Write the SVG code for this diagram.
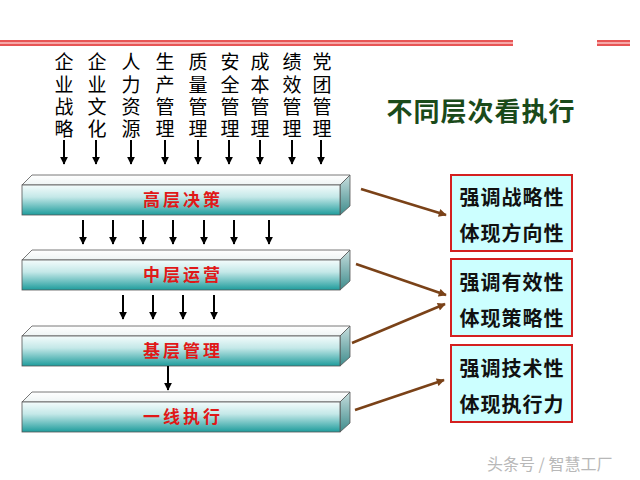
<svg xmlns="http://www.w3.org/2000/svg" width="640" height="480" viewBox="0 0 640 480">
<defs>
<linearGradient id="gFront" x1="0" y1="0" x2="0" y2="1">
<stop offset="0" stop-color="#f4fcfc"/>
<stop offset="0.4" stop-color="#c4e8e8"/>
<stop offset="1" stop-color="#1e9c9c"/>
</linearGradient>
<linearGradient id="gTop" x1="0" y1="0" x2="0" y2="1">
<stop offset="0" stop-color="#ffffff"/>
<stop offset="1" stop-color="#eef4f4"/>
</linearGradient>
<linearGradient id="gSide" x1="0" y1="0" x2="0" y2="1">
<stop offset="0" stop-color="#c8dede"/>
<stop offset="1" stop-color="#3e8c8c"/>
</linearGradient>
<marker id="ah" viewBox="0 0 10 10" refX="9" refY="5" markerWidth="8" markerHeight="8" markerUnits="userSpaceOnUse" orient="auto">
<path d="M0,0 L10,5 L0,10 z" fill="#000"/>
</marker>
<marker id="bh" viewBox="0 0 10 10" refX="9" refY="5" markerWidth="9" markerHeight="8" markerUnits="userSpaceOnUse" orient="auto">
<path d="M0,0 L10,5 L0,10 z" fill="#7a4218"/>
</marker>
<g id="barShape">
<polygon points="22,10 32,0 350,0 340,10" fill="url(#gTop)" stroke="#555" stroke-width="0.8"/>
<polygon points="340,10 350,0 350,31 340,40" fill="url(#gSide)" stroke="#555" stroke-width="0.8"/>
<rect x="22" y="10" width="318" height="30" fill="url(#gFront)" stroke="#555" stroke-width="0.8"/>
</g>
</defs>
<style>
.col{font-family:"Liberation Serif","Noto Sans CJK SC",serif;font-size:19px;fill:#000;text-anchor:middle}
.bar{font-family:"Noto Sans CJK SC",sans-serif;font-size:17px;font-weight:bold;fill:#e01818;text-anchor:middle;letter-spacing:3px}
.bx{font-family:"Noto Sans CJK SC",sans-serif;font-size:20px;font-weight:bold;fill:#111;text-anchor:middle;letter-spacing:1px}
.dn{stroke:#000;stroke-width:2;fill:none;marker-end:url(#ah)}
.br{stroke:#7a4218;stroke-width:2.5;fill:none;marker-end:url(#bh)}
.box{fill:#ccffff;stroke:#d42020;stroke-width:2}
</style>

<g id="header">
<rect x="0" y="40" width="513" height="6" fill="#f6a8a8"/>
<line x1="0" y1="41" x2="513" y2="41" stroke="#e23a3a" stroke-width="1.5"/>
<line x1="0" y1="45" x2="513" y2="45" stroke="#e23a3a" stroke-width="1.5"/>
<rect x="597" y="40" width="33" height="6" fill="#f6a8a8"/>
<line x1="597" y1="41" x2="630" y2="41" stroke="#e23a3a" stroke-width="1.5"/>
<line x1="597" y1="45" x2="630" y2="45" stroke="#e23a3a" stroke-width="1.5"/>
</g>

<g id="title">
<text x="481" y="121" font-family="'Noto Sans CJK SC',sans-serif" font-size="26" font-weight="bold" fill="#1a4a1a" text-anchor="middle" letter-spacing="1">不同层次看执行</text>
</g>

<g id="columns">
<text class="col" x="64"><tspan x="64" y="69">企</tspan><tspan x="64" y="92">业</tspan><tspan x="64" y="114">战</tspan><tspan x="64" y="136">略</tspan></text>
<text class="col" x="97"><tspan x="97" y="69">企</tspan><tspan x="97" y="92">业</tspan><tspan x="97" y="114">文</tspan><tspan x="97" y="136">化</tspan></text>
<text class="col" x="131"><tspan x="131" y="69">人</tspan><tspan x="131" y="92">力</tspan><tspan x="131" y="114">资</tspan><tspan x="131" y="136">源</tspan></text>
<text class="col" x="165"><tspan x="165" y="69">生</tspan><tspan x="165" y="92">产</tspan><tspan x="165" y="114">管</tspan><tspan x="165" y="136">理</tspan></text>
<text class="col" x="198"><tspan x="198" y="69">质</tspan><tspan x="198" y="92">量</tspan><tspan x="198" y="114">管</tspan><tspan x="198" y="136">理</tspan></text>
<text class="col" x="230"><tspan x="230" y="69">安</tspan><tspan x="230" y="92">全</tspan><tspan x="230" y="114">管</tspan><tspan x="230" y="136">理</tspan></text>
<text class="col" x="260"><tspan x="260" y="69">成</tspan><tspan x="260" y="92">本</tspan><tspan x="260" y="114">管</tspan><tspan x="260" y="136">理</tspan></text>
<text class="col" x="292"><tspan x="292" y="69">绩</tspan><tspan x="292" y="92">效</tspan><tspan x="292" y="114">管</tspan><tspan x="292" y="136">理</tspan></text>
<text class="col" x="322"><tspan x="322" y="69">党</tspan><tspan x="322" y="92">团</tspan><tspan x="322" y="114">管</tspan><tspan x="322" y="136">理</tspan></text>
</g>

<g id="bar1"><use href="#barShape" x="0" y="175"/><text class="bar" x="183" y="206">高层决策</text></g>
<g id="bar2"><use href="#barShape" x="0" y="250"/><text class="bar" x="183" y="281">中层运营</text></g>
<g id="bar3"><use href="#barShape" x="0" y="326"/><text class="bar" x="183" y="357">基层管理</text></g>
<g id="bar4"><use href="#barShape" x="0" y="392"/><text class="bar" x="183" y="423">一线执行</text></g>

<g id="box1"><rect class="box" x="451" y="175" width="121" height="76"/><text class="bx" x="512" y="205">强调战略性</text><text class="bx" x="512" y="241">体现方向性</text></g>
<g id="box2"><rect class="box" x="451" y="259" width="121" height="77"/><text class="bx" x="512" y="290">强调有效性</text><text class="bx" x="512" y="326">体现策略性</text></g>
<g id="box3"><rect class="box" x="451" y="345" width="121" height="77"/><text class="bx" x="512" y="376">强调技术性</text><text class="bx" x="512" y="412">体现执行力</text></g>

<g id="connectors">
<line class="dn" x1="64" y1="140" x2="64" y2="164"/>
<line class="dn" x1="96" y1="140" x2="96" y2="164"/>
<line class="dn" x1="131" y1="140" x2="131" y2="164"/>
<line class="dn" x1="165" y1="140" x2="165" y2="164"/>
<line class="dn" x1="198" y1="140" x2="198" y2="164"/>
<line class="dn" x1="229" y1="140" x2="229" y2="164"/>
<line class="dn" x1="260" y1="140" x2="260" y2="164"/>
<line class="dn" x1="292" y1="140" x2="292" y2="164"/>
<line class="dn" x1="321" y1="140" x2="321" y2="164"/>

<line class="dn" x1="83" y1="220" x2="83" y2="244"/>
<line class="dn" x1="113" y1="220" x2="113" y2="244"/>
<line class="dn" x1="143" y1="220" x2="143" y2="244"/>
<line class="dn" x1="173" y1="220" x2="173" y2="244"/>
<line class="dn" x1="204" y1="220" x2="204" y2="244"/>
<line class="dn" x1="234" y1="220" x2="234" y2="244"/>
<line class="dn" x1="269" y1="220" x2="269" y2="244"/>

<line class="dn" x1="123" y1="295" x2="123" y2="319"/>
<line class="dn" x1="153" y1="295" x2="153" y2="319"/>
<line class="dn" x1="183" y1="295" x2="183" y2="319"/>
<line class="dn" x1="214" y1="295" x2="214" y2="319"/>

<line class="dn" x1="168" y1="366" x2="168" y2="390"/>

<line class="br" x1="361" y1="189" x2="446" y2="215"/>
<line class="br" x1="356" y1="264" x2="446" y2="295"/>
<line class="br" x1="352" y1="343" x2="445" y2="304"/>
<line class="br" x1="355" y1="410" x2="444" y2="380"/>
</g>

<g id="watermark">
<text x="487" y="470" font-family="'Noto Sans CJK SC',sans-serif" font-size="16" fill="#b8b8b8">头条号 / 智慧工厂</text>
</g>
</svg>
